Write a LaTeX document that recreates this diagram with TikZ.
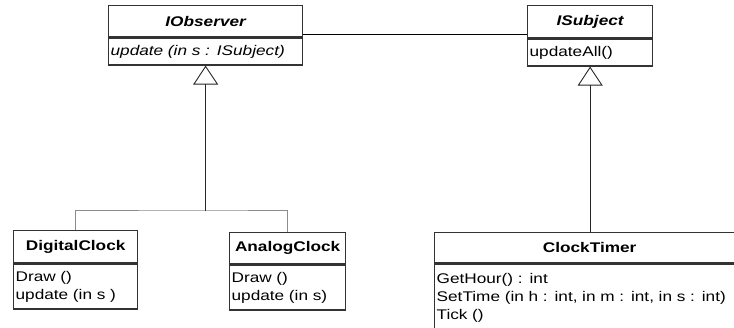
\documentclass[tikz,border=0pt]{standalone}
\usepackage{fontspec}
\setmainfont[FakeStretch=1.23]{Liberation Sans}
\usetikzlibrary{positioning,arrows.meta}

\tikzset{
  box/.style={draw=black!80, line width=1.3pt, inner sep=0pt, anchor=north west},
  iface/.style={box, minimum width=#1, font={\fontsize{14}{18}\selectfont\bfseries\itshape}},
  cls/.style={box, minimum width=#1, font={\fontsize{14}{18}\selectfont\bfseries}},
  members/.style={box, text width=#1, align=left, inner xsep=2pt, font={\fontsize{14}{18}\selectfont}},
  realize/.style={draw=black!85, line width=0.9pt, -{Triangle[open, length=19pt, width=25pt, line width=0.9pt]}},
  branch/.style={draw=black!45, line width=1pt},
}

\begin{document}
\begin{tikzpicture}[x=1pt, y=-1pt]
  % Canvas
  \useasboundingbox (0,0) rectangle (734,328);
  \clip (0,0) rectangle (734,328);

  % Interfaces
  \node[iface=194pt, minimum height=31pt] (obsT) at (108,5) {IObserver};
  \node[members=190pt, minimum height=27pt, below=0pt of obsT] (obsM) {\textit{update (in s : ISubject)}};

  \node[iface=125pt, minimum height=32pt] (subT) at (527,5) {ISubject};
  \node[members=121pt, minimum height=27pt, below=0pt of subT] (subM) {updateAll()};

  % Classes
  \node[cls=124pt, minimum height=32pt] (digT) at (13,230) {DigitalClock};
  \node[members=120pt, minimum height=45pt, below=0pt of digT] (digM) {Draw ()\\update (in s )};

  \node[cls=116pt, minimum height=31pt] (anaT) at (229,232) {AnalogClock};
  \node[members=112pt, minimum height=45pt, below=0pt of anaT] (anaM) {Draw ()\\update (in s)};

  \node[cls=310pt, minimum height=30pt] (ctT) at (434,232) {ClockTimer};
  \node[members=306pt, minimum height=67pt, below=0pt of ctT] (ctM) {GetHour() : int\\SetTime (in h : int, in m : int, in s : int)\\Tick ()};

  % Association
  \coordinate (assocL) at ([yshift=3pt]obsT.south east);
  \draw[black, line width=1pt] (assocL) -- (assocL -| subT.west);

  % Realizations
  \coordinate (obsJ) at (obsM.south |- 0,211);
  \draw[branch] (digT.north) |- (obsJ) -| (anaT.north);
  \draw[realize] (obsJ) -- (obsM.south);
  \draw[realize] (subM.south |- ctT.north) -- (subM.south);
\end{tikzpicture}
\end{document}
